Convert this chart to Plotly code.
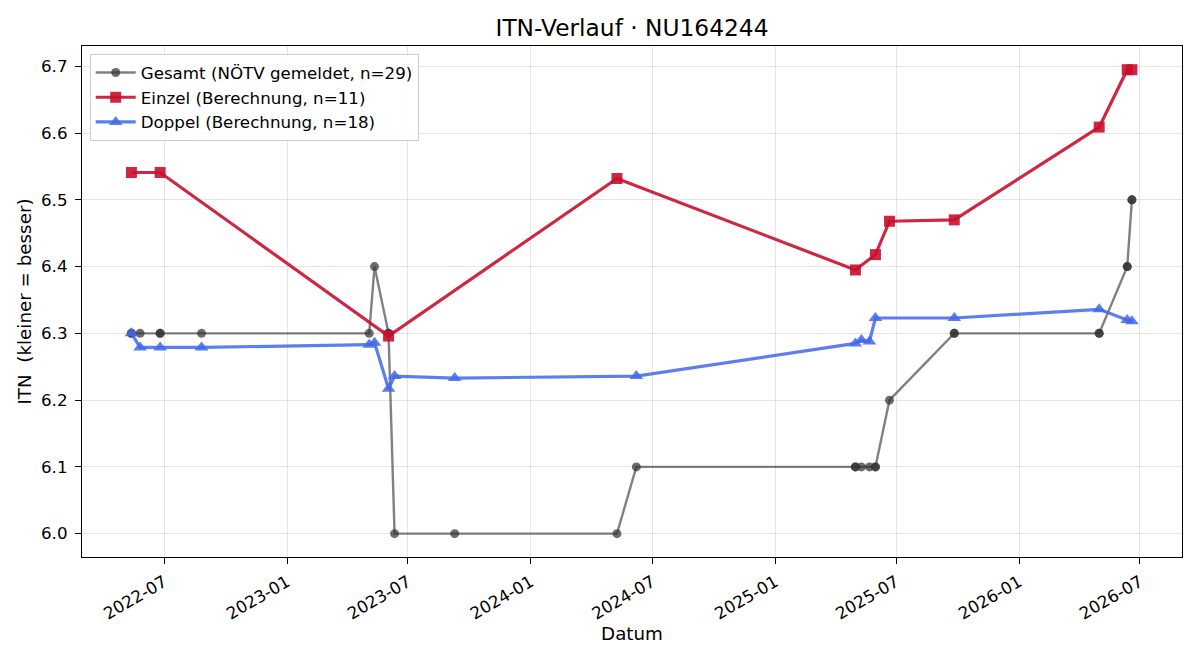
import plotly.graph_objects as go

# ---- data ----
gesamt_dates = ["2022-05-13", "2022-05-13", "2022-05-26", "2022-06-25", "2022-06-25",
                "2022-08-26", "2023-05-04", "2023-05-12", "2023-06-02", "2023-06-02",
                "2023-06-11", "2023-09-09", "2024-05-09", "2024-06-07", "2025-05-01",
                "2025-05-01", "2025-05-10", "2025-05-22", "2025-05-31", "2025-05-31",
                "2025-06-21", "2025-09-26", "2025-09-26", "2026-05-01", "2026-05-01",
                "2026-06-12", "2026-06-12", "2026-06-19", "2026-06-19"]
gesamt_values = [6.3, 6.3, 6.3, 6.3, 6.3,
                 6.3, 6.3, 6.4, 6.3, 6.3,
                 6.0, 6.0, 6.0, 6.1, 6.1,
                 6.1, 6.1, 6.1, 6.1, 6.1,
                 6.2, 6.3, 6.3, 6.3, 6.3,
                 6.4, 6.4, 6.5, 6.5]

einzel_dates = ["2022-05-13", "2022-06-25", "2023-06-02", "2024-05-09", "2025-05-01",
                "2025-05-31", "2025-06-21", "2025-09-26", "2026-05-01", "2026-06-12",
                "2026-06-19"]
einzel_values = [6.541, 6.541, 6.296, 6.532, 6.395, 6.418, 6.468, 6.470, 6.609, 6.695, 6.695]

doppel_dates = ["2022-05-13", "2022-05-26", "2022-06-25", "2022-08-26", "2023-05-04",
                "2023-05-12", "2023-06-02", "2023-06-11", "2023-09-09", "2024-06-07",
                "2025-05-01", "2025-05-10", "2025-05-22", "2025-05-31", "2025-09-26",
                "2026-05-01", "2026-06-12", "2026-06-19"]
doppel_values = [6.300, 6.279, 6.279, 6.279, 6.283, 6.286, 6.217, 6.236, 6.233, 6.236,
                 6.285, 6.290, 6.288, 6.323, 6.323, 6.336, 6.320, 6.318]

x_ticks = ["2022-07-01", "2023-01-01", "2023-07-01", "2024-01-01", "2024-07-01",
           "2025-01-01", "2025-07-01", "2026-01-01", "2026-07-01"]
x_tick_labels = ["2022-07", "2023-01", "2023-07", "2024-01", "2024-07",
                 "2025-01", "2025-07", "2026-01", "2026-07"]
y_ticks = [6.0, 6.1, 6.2, 6.3, 6.4, 6.5, 6.6, 6.7]

FONT = "DejaVu Sans"
TICK = 16.7

fig = go.Figure()
fig.add_trace(go.Scatter(
    x=gesamt_dates, y=gesamt_values, mode="lines+markers",
    name="Gesamt (NÖTV gemeldet, n=29)",
    line=dict(color="rgba(51,51,51,0.62)", width=2.4),
    marker=dict(symbol="circle", size=9, color="rgba(51,51,51,0.72)",
                line=dict(width=0)),
))
fig.add_trace(go.Scatter(
    x=einzel_dates, y=einzel_values, mode="lines+markers",
    name="Einzel (Berechnung, n=11)",
    line=dict(color="rgba(200,16,46,0.9)", width=3.2),
    marker=dict(symbol="square", size=11, color="rgba(200,16,46,0.9)",
                line=dict(width=0)),
))
fig.add_trace(go.Scatter(
    x=doppel_dates, y=doppel_values, mode="lines+markers",
    name="Doppel (Berechnung, n=18)",
    line=dict(color="rgba(65,105,235,0.85)", width=3.2),
    marker=dict(symbol="triangle-up", size=12, color="rgba(65,105,235,0.85)",
                line=dict(width=0)),
))

fig.update_layout(
    width=1200, height=660,
    margin=dict(l=82, r=18, t=46, b=103),
    paper_bgcolor="white", plot_bgcolor="white",
    font=dict(family=FONT, size=TICK, color="black"),
    title=dict(text="ITN-Verlauf · NU164244", x=0.5, xref="paper",
               y=1 - 28 / 660, yref="container", yanchor="middle", xanchor="center",
               font=dict(family=FONT, size=23.3, color="black")),
    legend=dict(x=0.007, y=0.984, xanchor="left", yanchor="top",
                bgcolor="rgba(255,255,255,0.85)", bordercolor="#cccccc", borderwidth=1,
                font=dict(family=FONT, size=16.7), itemwidth=40),
    showlegend=True,
)
fig.update_xaxes(
    type="date", range=["2022-02-28", "2026-09-02"],
    tickvals=x_ticks, ticktext=x_tick_labels, tickangle=-30,
    ticks="outside", ticklen=6, tickcolor="black", tickwidth=1.2,
    ticklabelstandoff=2,
    showline=True, linecolor="black", linewidth=1.2, mirror=True,
    showgrid=True, gridcolor="rgba(0,0,0,0.1)", gridwidth=1,
    zeroline=False,
    tickfont=dict(family=FONT, size=TICK),
    title=dict(text="Datum", font=dict(family=FONT, size=18.3), standoff=4),
)
fig.update_yaxes(
    range=[5.965, 6.7305],
    tickvals=y_ticks, tickformat=".1f",
    ticks="outside", ticklen=6, tickcolor="black", tickwidth=1.2,
    ticklabelstandoff=4,
    showline=True, linecolor="black", linewidth=1.2, mirror=True,
    showgrid=True, gridcolor="rgba(0,0,0,0.1)", gridwidth=1,
    zeroline=False,
    tickfont=dict(family=FONT, size=TICK),
    title=dict(text="ITN  (kleiner = besser)", font=dict(family=FONT, size=18.3), standoff=4),
)

fig.write_html("out.html")
